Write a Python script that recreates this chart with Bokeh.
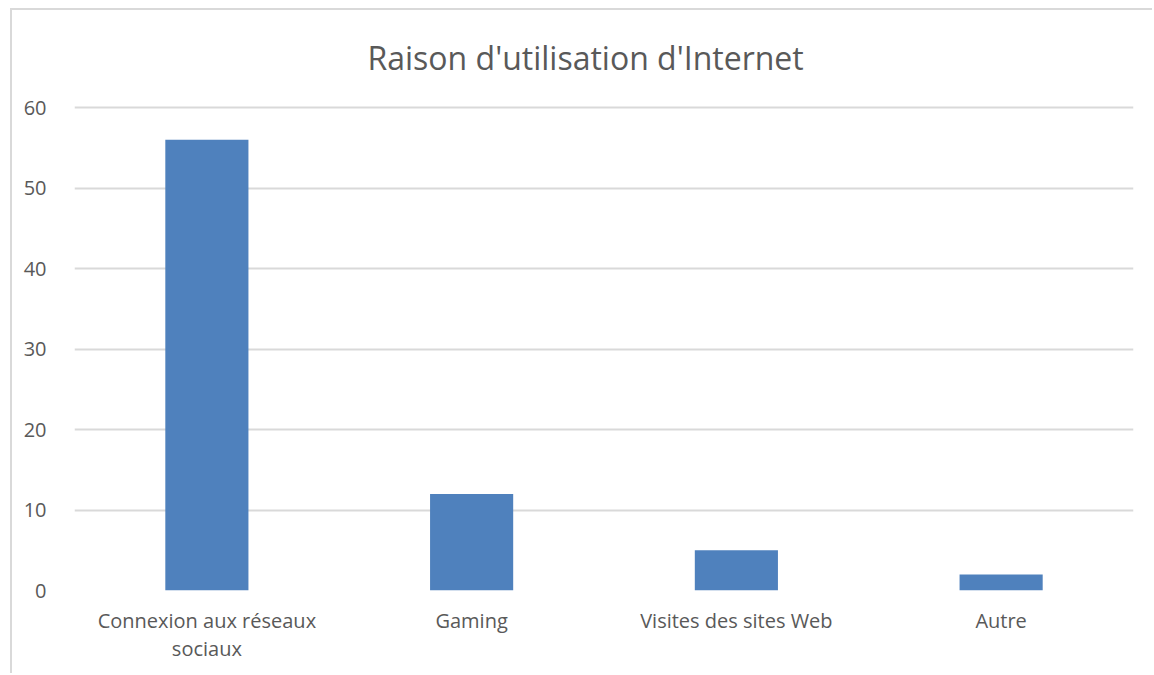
from bokeh.plotting import figure
from bokeh.models import ColumnDataSource, FactorRange, Range1d, FixedTicker
from bokeh.embed import file_html
from bokeh.resources import INLINE

categories = ["Connexion aux réseaux\nsociaux", "Gaming", "Visites des sites Web", "Autre"]
values = [56, 12, 5, 2]
y_ticks = [0, 10, 20, 30, 40, 50, 60]

FONT = "Open Sans"
TXT = "#595959"
GRID = "#D9D9D9"

src = ColumnDataSource(dict(cat=categories, val=values))

p = figure(
    x_range=FactorRange(*categories, range_padding=0),
    y_range=Range1d(0, 60.25),
    width=1142, height=665,
    output_backend="svg", toolbar_location=None,
    min_border_left=62, min_border_right=21, min_border_top=95, min_border_bottom=85,
    title="Raison d'utilisation d'Internet",
)
p.styles = {"margin-left": "10px", "margin-top": "8px",
            "border-left": "2px solid #D9D9D9", "border-top": "2px solid #D9D9D9"}

p.vbar(x="cat", top="val", width=0.314, source=src, color="#4F81BD", line_color=None)

p.outline_line_color = None
p.title.align = "left"
p.title.offset = 293
p.title.text_font = FONT
p.title.text_font_style = "normal"
p.title.text_font_size = "32px"
p.title.text_color = TXT
p.title.vertical_align = "top"
p.title.standoff = 50

p.xgrid.grid_line_color = None
p.ygrid.grid_line_color = GRID
p.ygrid.grid_line_width = 2
p.yaxis.ticker = FixedTicker(ticks=y_ticks)

for ax in (p.xaxis, p.yaxis):
    ax.axis_line_color = None
    ax.major_tick_line_color = None
    ax.minor_tick_line_color = None
    ax.major_label_text_font = FONT
    ax.major_label_text_font_size = "20px"
    ax.major_label_text_color = TXT

p.yaxis.major_label_standoff = 22
p.xaxis.major_label_standoff = 10
p.xaxis.major_label_text_line_height = 1.05

open("out.html", "w").write(file_html(p, INLINE))
